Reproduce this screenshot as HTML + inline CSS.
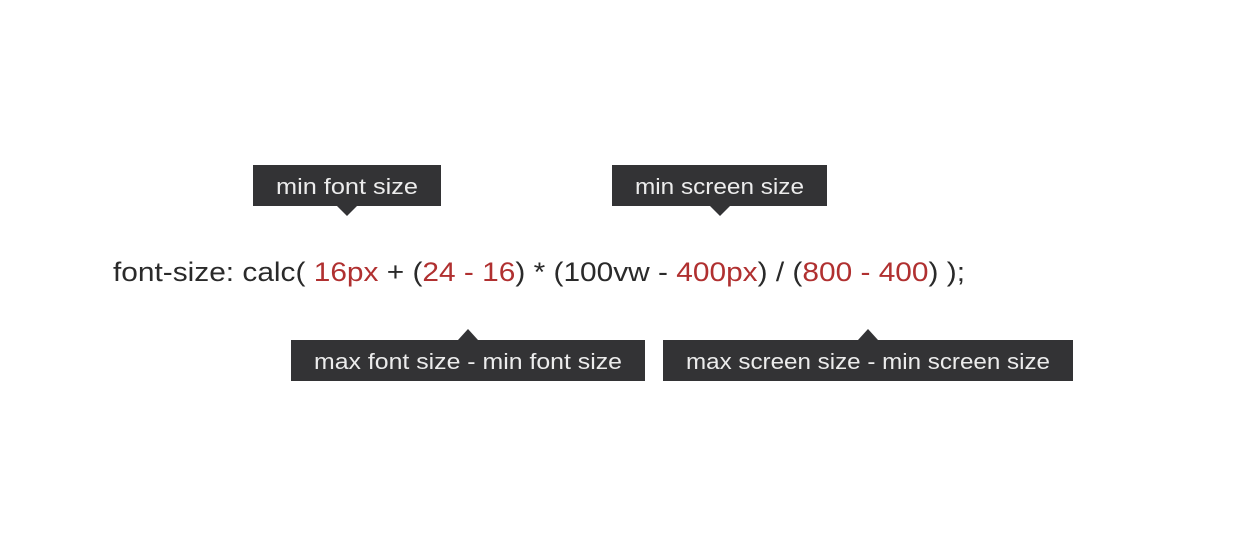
<!DOCTYPE html>
<html><head><meta charset="utf-8"><style>
html,body{margin:0;padding:0;background:#fff;}
svg{display:block;}
</style></head><body>
<svg width="1257" height="540" viewBox="0 0 1257 540" xmlns="http://www.w3.org/2000/svg" font-family="Liberation Sans, sans-serif">
<rect width="1257" height="540" fill="#fff"/>
<g fill="#333335">
<rect x="253" y="165" width="188" height="41"/>
<polygon points="337,206 357,206 347,216"/>
<rect x="612" y="165" width="215" height="41"/>
<polygon points="710,206 730,206 720,216"/>
<rect x="291" y="340" width="354" height="41"/>
<polygon points="458,340 478,340 468,329"/>
<rect x="663" y="340" width="410" height="41"/>
<polygon points="858,340 878,340 868,329"/>
</g>
<g fill="#ececec" font-size="22">
<text x="276" y="194" textLength="142" lengthAdjust="spacingAndGlyphs">min font size</text>
<text x="635" y="194" textLength="169" lengthAdjust="spacingAndGlyphs">min screen size</text>
<text x="314" y="369" textLength="308" lengthAdjust="spacingAndGlyphs">max font size - min font size</text>
<text x="686" y="369" textLength="364" lengthAdjust="spacingAndGlyphs">max screen size - min screen size</text>
</g>
<text x="113" y="281" font-size="27" fill="#2a2a2a" textLength="852" lengthAdjust="spacingAndGlyphs">font-size: calc( <tspan fill="#b03030">16px</tspan> + (<tspan fill="#b03030">24 - 16</tspan>) * (100vw - <tspan fill="#b03030">400px</tspan>) / (<tspan fill="#b03030">800 - 400</tspan>) );</text>
</svg>
</body></html>
